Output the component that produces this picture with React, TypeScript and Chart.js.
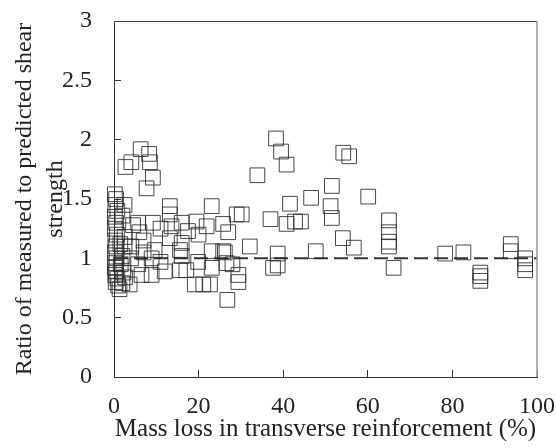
import React, { useEffect, useRef } from "react";
import { Chart, registerables } from "chart.js";

Chart.register(...registerables);

// Mass loss in transverse reinforcement (%)
const massLoss: number[] = [
  0.2, 0.5, 0.3, 0.8, 0.2, 0.5, 0.2, 0.7, 0.3, 0.5, 0.2, 0.6, 0.3, 0.2, 0.5, 0.3, 0.8, 0.4, 1.0, 1.3, 2.0, 2.2, 2.6, 1.6, 2.0, 2.5, 2.0, 1.5, 2.5,
  2.7, 4.1, 6.3, 8.3, 8.5, 9.2, 7.7,
  13.2, 5.7, 9.2, 13.6, 13.2, 13.2, 2.5, 4.1, 9.6, 15.6, 5.7, 8.9, 3.7, 6.5, 8.9, 12.0, 15.6, 6.0, 4.5, 11.0, 7.0, 11.0, 4.0, 7.0,
  16.0, 19.5, 17.5, 21.9, 23.1, 25.8, 27.0, 29.0, 30.2, 16.0, 23.1, 25.8, 32.1, 16.0, 19.9, 26.2, 26.6, 17.1, 23.1, 19.1, 21.1, 22.7, 29.4, 29.4, 26.8, 20.0, 28.0,
  38.3, 39.5, 40.8, 33.9, 54.2, 55.6, 51.5, 46.6, 60.1, 41.6, 51.2, 51.5, 37.0, 40.8, 42.8, 44.2, 65.0, 65.0, 65.0, 65.0, 66.1, 54.1, 56.7, 38.7, 47.7, 37.6, 38.7,
  78.3, 82.6, 86.6, 86.6, 86.6, 93.8, 93.8, 97.2, 97.2, 97.2,
];

// Ratio of measured to predicted shear strength
const ratio: number[] = [
  1.54, 1.5, 1.45, 1.4, 1.35, 1.3, 1.25, 1.2, 1.15, 1.1, 1.05, 1.0, 0.96, 0.92, 0.89, 0.86, 0.83, 0.8, 0.77, 0.74, 0.79, 0.88, 0.84, 0.95, 1.02, 1.45, 1.36, 1.12, 1.18,
  1.77, 1.81, 1.92, 1.88, 1.81, 1.68, 1.59,
  1.44, 1.3, 1.3, 1.27, 1.37, 1.17, 1.1, 1.1, 1.07, 1.07, 0.95, 1.0, 0.78, 0.86, 0.86, 0.89, 0.9, 1.22, 1.28, 1.25, 1.15, 0.97, 1.0, 1.05,
  1.3, 1.31, 1.23, 1.27, 1.44, 1.29, 1.22, 1.37, 1.37, 1.13, 1.06, 1.06, 1.1, 1.02, 0.97, 1.05, 0.96, 0.9, 0.92, 0.78, 0.78, 0.78, 0.86, 0.8, 0.65, 1.2, 0.95,
  2.01, 1.9, 1.79, 1.7, 1.89, 1.86, 1.61, 1.51, 1.52, 1.46, 1.44, 1.34, 1.33, 1.29, 1.31, 1.31, 1.32, 1.22, 1.14, 1.1, 0.92, 1.17, 1.09, 1.04, 1.06, 0.92, 0.94,
  1.04, 1.05, 0.88, 0.85, 0.81, 1.12, 1.06, 1.0, 0.95, 0.9,
];

// Reference line (ratio = 1)
const refX: number[] = [0, 100];
const refY: number[] = [1, 1];

const xTicks = { min: 0, max: 100, step: 20 };
const yTicks = { min: 0, max: 3, step: 0.5 };

const FONT = "'Liberation Serif', 'Times New Roman', Times, serif";

const framePlugin = {
  id: "frame",
  afterDraw(chart: any) {
    const { ctx, chartArea } = chart;
    ctx.save();
    ctx.lineWidth = 1;
    ctx.strokeStyle = "#444";
    ctx.beginPath();
    ctx.moveTo(chartArea.left, Math.round(chartArea.top) + 0.5);
    ctx.lineTo(chartArea.right, Math.round(chartArea.top) + 0.5);
    ctx.stroke();
    ctx.strokeStyle = "#999";
    ctx.lineWidth = 1.5;
    ctx.beginPath();
    ctx.moveTo(chartArea.right, chartArea.top);
    ctx.lineTo(chartArea.right, chartArea.bottom);
    ctx.stroke();
    ctx.restore();
  },
};

export default function App() {
  const ref = useRef<HTMLCanvasElement | null>(null);

  useEffect(() => {
    if (!ref.current) return;
    const points = massLoss.map((x, i) => ({ x, y: ratio[i] }));
    const line = refX.map((x, i) => ({ x, y: refY[i] }));
    const chart = new Chart(ref.current, {
      type: "scatter",
      data: {
        datasets: [
          {
            type: "line",
            data: line,
            borderColor: "#333",
            borderWidth: 2,
            borderDash: [14, 6],
            pointRadius: 0,
            fill: false,
            order: 2,
          } as any,
          {
            data: points,
            pointStyle: "rect",
            pointRadius: 10.4,
            pointHoverRadius: 10.4,
            borderColor: "rgba(40,40,40,0.85)",
            backgroundColor: "rgba(0,0,0,0)",
            pointBorderWidth: 1,
            borderWidth: 1,
            clip: false,
            order: 1,
          } as any,
        ],
      },
      options: {
        responsive: false,
        animation: false,
        devicePixelRatio: 1,
        layout: { autoPadding: false, padding: { left: 0, right: 19, top: 21, bottom: 0 } },
        plugins: { legend: { display: false }, tooltip: { enabled: false } },
        scales: {
          x: {
            type: "linear",
            min: xTicks.min,
            max: xTicks.max,
            ticks: {
              stepSize: xTicks.step,
              padding: 22,
              color: "#222",
              font: { family: FONT, size: 24, lineHeight: 1.2 },
              callback: (v: any) => String(v),
            },
            grid: { drawOnChartArea: false, tickLength: -7, color: "#333" },
            border: { display: true, color: "#333", width: 1 },
            title: {
              display: true,
              text: "Mass loss in transverse reinforcement (%)",
              color: "#222",
              font: { family: FONT, size: 25, lineHeight: 1.2 },
              padding: { top: 0, bottom: 3.5 },
            },
            afterFit: (s: any) => {
              s.height = 71;
              s.paddingLeft = 0;
              s.paddingRight = 0;
            },
          },
          y: {
            type: "linear",
            min: yTicks.min,
            max: yTicks.max,
            ticks: {
              stepSize: yTicks.step,
              padding: 29,
              color: "#222",
              font: { family: FONT, size: 24, lineHeight: 1.2 },
              callback: (v: any) => String(v),
            },
            grid: { drawOnChartArea: false, tickLength: -7, color: "#333" },
            border: { display: true, color: "#333", width: 1 },
            title: {
              display: true,
              text: ["Ratio of measured to predicted shear", "strength"],
              color: "#222",
              font: { family: FONT, size: 24, lineHeight: 1.3 },
              padding: { top: 9.4, bottom: 0 },
            },
            afterFit: (s: any) => {
              s.width = 114;
              s.paddingTop = 0;
              s.paddingBottom = 0;
            },
          },
        },
      },
      plugins: [framePlugin],
    });
    return () => chart.destroy();
  }, []);

  return (
    <div style={{ position: "absolute", left: 0, top: 0, width: 556, height: 448 }}>
      <canvas ref={ref} width={556} height={448} style={{ width: 556, height: 448 }} />
    </div>
  );
}
